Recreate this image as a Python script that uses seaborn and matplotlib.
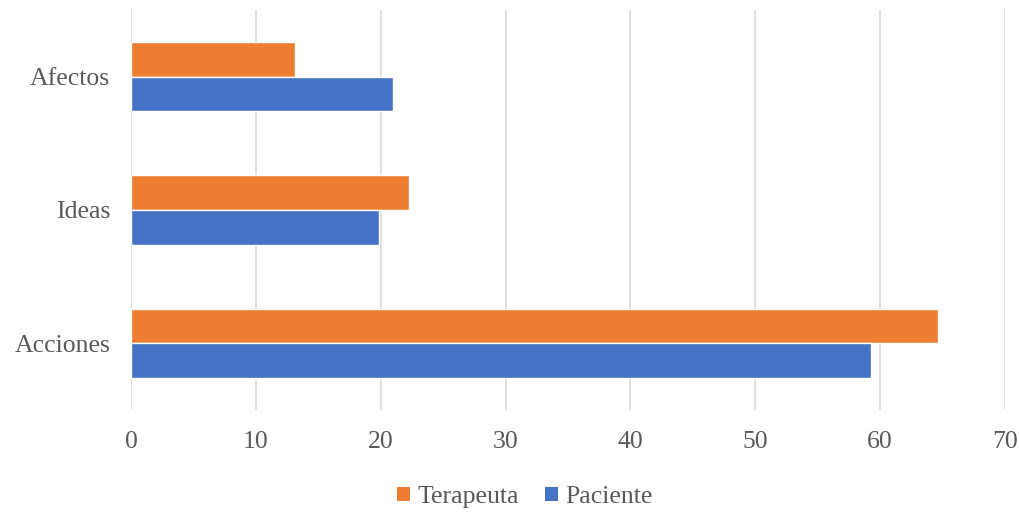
import matplotlib
matplotlib.use("Agg")
import matplotlib.pyplot as plt
import seaborn as sns
import pandas as pd
from matplotlib.patches import Patch

categories = ["Afectos", "Ideas", "Acciones"]
terapeuta = [13.1, 22.3, 64.6]
paciente = [21.0, 19.9, 59.3]
series_names = ["Terapeuta", "Paciente"]
colors = ["#ED7D31", "#4472C4"]
xticks = [0, 10, 20, 30, 40, 50, 60, 70]

df = pd.DataFrame({
    "cat": categories * 2,
    "val": terapeuta + paciente,
    "serie": [series_names[0]] * 3 + [series_names[1]] * 3,
})

sns.set_style("white")
plt.rcParams["font.family"] = ["Liberation Serif", "DejaVu Serif"]

fig = plt.figure(figsize=(10.19, 5.16), dpi=100)
ax = fig.add_axes([131 / 1019, 1 - 410 / 516, (1005 - 131) / 1019, 400 / 516])

sns.barplot(data=df, y="cat", x="val", hue="serie", order=categories,
            hue_order=series_names, palette=colors, width=0.52,
            orient="h", ax=ax, saturation=1, legend=False)

ax.set_xlim(0, 70)
ax.set_ylim(2.5, -0.5)
ax.set_xticks(xticks)
ax.set_xticklabels([str(t) for t in xticks])
ax.grid(axis="x", color="#d9d9d9", linewidth=1.2)
ax.set_axisbelow(True)
for s in ax.spines.values():
    s.set_visible(False)
ax.tick_params(axis="both", length=0, labelsize=18.5, colors="#595959")
ax.tick_params(axis="x", pad=15)
ax.tick_params(axis="y", pad=15)
ax.set_xlabel("")
ax.set_ylabel("")

handles = [Patch(facecolor=c, edgecolor="none") for c in colors]
fig.legend(handles, series_names, loc="center", bbox_to_anchor=(0.515, 1 - 497 / 516),
           ncol=2, frameon=False, fontsize=18.5, handlelength=0.5, handleheight=0.5,
           handletextpad=0.3, columnspacing=1.0, labelcolor="#595959")

fig.savefig("out.png", dpi=100)
